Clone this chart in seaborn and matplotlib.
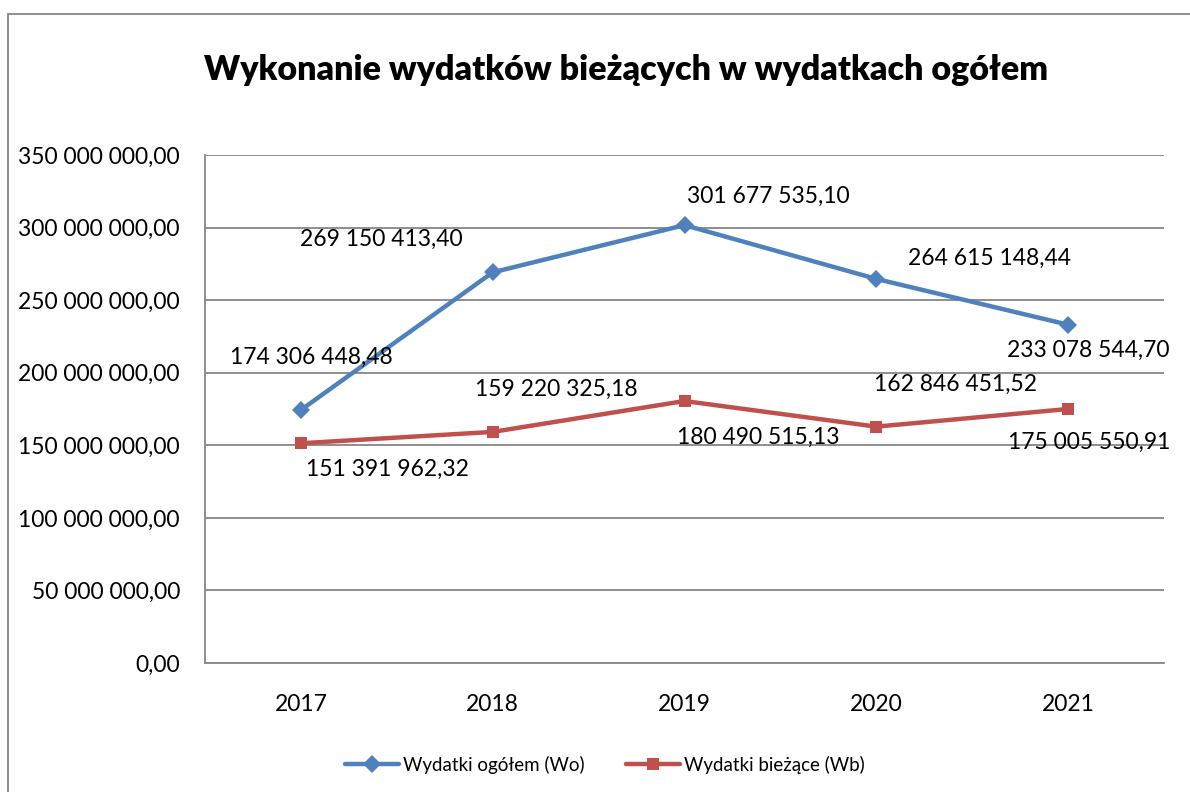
import seaborn as sns
import numpy as np
import pandas as pd
import matplotlib.pyplot as plt
from matplotlib.patches import Rectangle
from matplotlib.ticker import FuncFormatter, FixedLocator

years = ['2017', '2018', '2019', '2020', '2021']
wo = [174306448.48, 269150413.40, 301677535.10, 264615148.44, 233078544.70]
wb = [151391962.32, 159220325.18, 180490515.13, 162846451.52, 175005550.91]
series_names = ['Wydatki ogółem (Wo)', 'Wydatki bieżące (Wb)']

sns.set_style('white')
plt.rcParams['font.family'] = ['Lato', 'DejaVu Sans']
plt.rcParams['text.color'] = 'black'
plt.rcParams['xtick.labelcolor'] = 'black'
plt.rcParams['ytick.labelcolor'] = 'black'

def fmt(v, pos=None):
    s = '{:,.2f}'.format(v)
    return s.replace(',', ' ').replace('.', ',')

df = pd.DataFrame({'rok': years * 2,
                   'wartosc': wo + wb,
                   'seria': [series_names[0]] * 5 + [series_names[1]] * 5})

fig = plt.figure(figsize=(11.9, 7.92), dpi=100)
ax = fig.add_axes([205 / 1190, 1 - 663 / 792, (1164 - 205) / 1190, (663 - 155) / 792])

blue = '#4F81BD'
red = '#C0504D'
sns.lineplot(data=df, x='rok', y='wartosc', hue='seria', style='seria',
             palette=[blue, red], markers=['D', 's'], dashes=False,
             linewidth=3.2, markersize=9, markeredgewidth=0, ax=ax, legend=True)

ax.set_ylim(0, 350000000)
ax.set_xlim(-0.5, 4.5)
ax.set_yticks(np.arange(0, 350000001, 50000000))
ax.yaxis.set_major_formatter(FuncFormatter(fmt))
ax.set_xticks(range(5))
ax.set_xticklabels(years)
ax.xaxis.set_minor_locator(FixedLocator(np.arange(-0.5, 5, 1)))
ax.tick_params(axis='x', which='major', length=0, pad=22, labelsize=16.5)
ax.tick_params(axis='x', which='minor', length=6, width=1.3, color='#868686', direction='out')
ax.tick_params(axis='y', length=8, width=1.3, color='#868686', direction='out', pad=10, labelsize=16.5)
ax.set_xlabel('')
ax.set_ylabel('')
ax.grid(axis='y', color='#868686', linewidth=1.3)
ax.grid(axis='x', visible=False)
for s in ['top', 'right']:
    ax.spines[s].set_visible(False)
for s in ['left', 'bottom']:
    ax.spines[s].set_color('#868686')
    ax.spines[s].set_linewidth(1.3)
ax.set_axisbelow(True)

# data labels, offsets in pixels to mimic the Excel placement
wo_off = [(10, 53), (-111, 33), (84, 29), (113, 21), (20, -26)]
wb_off = [(87, -26), (64, 43), (74, -36), (79, 42), (21, -33)]
for vals, offs in [(wo, wo_off), (wb, wb_off)]:
    for i, (v, o) in enumerate(zip(vals, offs)):
        ax.annotate(fmt(v), (i, v), xytext=o, textcoords='offset pixels',
                    ha='center', va='center', fontsize=16.5, color='black')

ax.legend(loc='center', bbox_to_anchor=(0.417, -0.2), ncol=2, frameon=False,
          fontsize=13.5, handlelength=2.9, columnspacing=2.2, handletextpad=0.2)

fig.text(626 / 1190, 1 - 70 / 792, 'Wykonanie wydatków bieżących w wydatkach ogółem',
         ha='center', va='center', fontsize=24.5, fontweight='heavy', color='black')

fig.patches.append(Rectangle((8 / 1190, -0.1), 1.2, 0.1 + 1 - 14 / 792,
                             transform=fig.transFigure, fill=False,
                             edgecolor='#868686', linewidth=1.3))

fig.savefig('out.png', dpi=100)
